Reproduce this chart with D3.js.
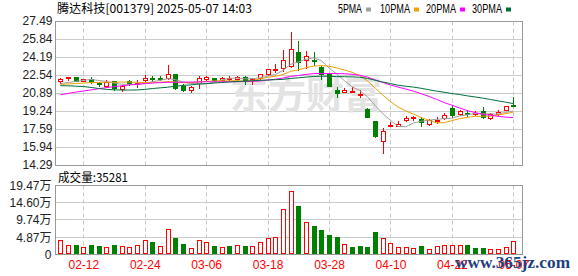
<!DOCTYPE html>
<html>
<head>
<meta charset="utf-8">
<script src="https://cdn.jsdelivr.net/npm/d3@7"></script>
<style>
body { margin: 0; background: #fff; }
svg { display: block; font-family: "Liberation Sans", Arial, "Noto Sans CJK SC", sans-serif; }
</style>
</head>
<body>
<svg id="chart" width="578" height="276"></svg>
<script>
var dates = ['02-07','02-10','02-11','02-12','02-13','02-14','02-17','02-18','02-19','02-20',
  '02-21','02-24','02-25','02-26','02-27','02-28','03-03','03-04','03-05','03-06',
  '03-07','03-10','03-11','03-12','03-13','03-14','03-17','03-18','03-19','03-20',
  '03-21','03-24','03-25','03-26','03-27','03-28','03-31','04-01','04-02','04-03',
  '04-07','04-08','04-09','04-10','04-11','04-14','04-15','04-16','04-17','04-18',
  '04-21','04-22','04-23','04-24','04-25','04-28','04-29','04-30','05-06','05-07'];

var open = [21.96,22.22,22.36,22.00,22.17,21.78,21.56,21.99,21.23,21.99,
  21.74,22.05,22.24,22.30,22.29,22.63,21.56,21.20,21.83,22.17,
  22.24,22.08,22.15,22.17,22.38,22.08,22.29,22.60,23.02,23.15,
  23.40,24.68,23.94,23.88,23.30,22.60,21.16,21.00,20.98,20.74,
  19.40,18.32,16.52,17.84,17.87,18.39,18.57,18.54,18.05,18.40,
  18.62,19.51,18.94,19.06,18.98,19.24,18.57,18.96,19.33,19.82];
var high = [22.29,22.38,22.38,22.20,22.36,21.90,22.11,22.00,21.62,22.08,
  22.08,22.54,22.45,22.42,23.46,22.65,21.68,21.50,22.47,22.42,
  22.30,22.35,22.45,22.42,22.42,22.30,22.65,23.10,23.52,24.83,
  26.45,25.68,24.76,24.62,23.35,22.62,21.41,21.35,21.40,21.16,
  19.55,18.35,17.68,18.27,18.30,18.80,18.80,18.72,18.54,18.72,
  19.10,19.70,19.35,19.25,19.20,19.57,19.10,19.30,19.70,20.55];
var low = [21.83,22.08,22.00,21.98,21.85,21.56,21.44,21.14,21.10,21.62,
  21.44,21.88,21.99,22.08,22.17,21.23,21.05,21.00,21.32,22.10,
  22.00,22.00,22.10,22.10,21.70,21.75,22.20,22.55,22.84,22.95,
  23.25,23.00,23.20,23.46,22.17,21.52,20.50,20.95,20.97,20.55,
  18.65,16.85,15.42,17.82,17.85,18.35,18.42,17.90,17.98,18.10,
  18.50,18.66,18.90,18.80,18.85,18.57,18.52,18.90,19.30,19.75];
var close = [22.17,22.36,22.02,22.18,21.90,21.72,21.93,21.32,21.56,21.85,
  21.80,22.24,22.15,22.20,22.63,21.32,21.20,21.47,22.24,22.33,
  22.07,22.30,22.22,22.38,22.00,22.13,22.60,23.06,23.10,23.92,
  24.92,23.70,24.25,23.78,22.63,21.56,20.92,21.20,21.05,20.84,
  18.73,16.95,17.43,17.95,18.02,18.63,18.66,18.26,18.42,18.45,
  18.90,18.87,19.27,18.98,19.02,18.69,18.94,19.18,19.67,19.78];

var ma5 = [21.75,21.85,21.95,22.05,22.13,22.04,21.95,21.81,21.69,21.68,
  21.69,21.75,21.92,22.05,22.20,22.11,21.90,21.76,21.77,21.71,
  21.86,22.08,22.23,22.26,22.19,22.21,22.27,22.43,22.58,22.96,
  23.52,23.74,23.98,24.11,23.86,23.18,22.63,22.02,21.47,21.11,
  20.55,19.75,19.00,18.38,17.82,17.80,18.14,18.30,18.40,18.48,
  18.54,18.58,18.78,18.89,19.01,18.97,18.98,18.96,19.10,19.25];
var ma10 = [21.68,21.72,21.76,21.80,21.84,21.86,21.88,21.88,21.89,21.90,
  21.87,21.85,21.87,21.87,21.94,21.90,21.83,21.84,21.91,21.96,
  21.99,21.99,22.00,22.02,21.95,22.04,22.18,22.33,22.42,22.58,
  22.87,23.01,23.21,23.35,23.41,23.35,23.19,23.00,22.79,22.49,
  22.00,21.35,20.70,20.10,19.60,19.25,18.95,18.65,18.39,18.15,
  18.17,18.36,18.54,18.65,18.75,18.76,18.78,18.87,19.00,19.13];
var ma20 = [20.72,20.85,20.97,21.07,21.17,21.28,21.38,21.47,21.55,21.62,
  21.69,21.75,21.80,21.84,21.87,21.88,21.88,21.89,21.90,21.92,
  21.91,21.91,21.92,21.93,21.94,21.96,21.99,22.08,22.15,22.26,
  22.41,22.49,22.59,22.67,22.67,22.68,22.67,22.66,22.60,22.52,
  22.35,22.09,21.85,21.63,21.43,21.25,21.06,20.82,20.58,20.31,
  20.01,19.77,19.52,19.28,19.10,18.95,18.85,18.75,18.68,18.63];
var ma30 = [21.56,21.55,21.52,21.48,21.40,21.30,21.22,21.18,21.16,21.16,
  21.17,21.22,21.30,21.36,21.42,21.52,21.58,21.64,21.70,21.75,
  21.80,21.85,21.90,21.94,21.98,22.01,22.05,22.08,22.11,22.14,
  22.23,22.28,22.35,22.40,22.43,22.42,22.39,22.38,22.37,22.33,
  22.23,22.06,21.90,21.76,21.60,21.51,21.43,21.32,21.19,21.06,
  20.96,20.84,20.75,20.63,20.53,20.42,20.30,20.17,20.05,19.92];

// volume in 万 (10k lots)
var volume = [4.05,2.64,2.45,2.07,2.64,2.17,2.07,2.45,2.36,2.07,
  2.64,4.05,3.30,2.36,7.17,4.62,2.74,1.79,4.05,3.49,
  2.36,2.07,2.36,2.64,2.36,2.36,3.49,4.62,4.90,12.83,
  17.90,13.50,9.15,7.83,6.70,5.28,4.72,2.92,1.89,2.17,
  1.89,6.13,4.62,3.21,2.07,2.07,1.79,2.17,1.51,2.36,
  2.64,2.64,2.64,2.45,1.60,1.60,1.51,1.51,2.07,3.53];
var volUp = [1,1,0,1,0,0,1,0,1,1, 1,1,0,1,1,0,0,1,1,1,
  0,1,0,1,0,1,1,1,1,1, 1,0,1,0,0,0,0,1,0,0,
  0,0,1,1,1,1,1,0,1,1, 1,1,1,0,0,0,1,1,1,1];
var lastVolume = 35281;

var priceTicks = [27.49, 25.84, 24.19, 22.54, 20.89, 19.24, 17.59, 15.94, 14.29];
var volTicks = [0, 4.87, 9.74, 14.60, 19.47];
var dateTicks = ['02-12','02-24','03-06','03-18','03-28','04-10','04-22','05-07'];

var maNames = ['5PMA', '10PMA', '20PMA', '30PMA'];
var maColors = ['#a0a0a0', '#f0a000', '#ff00ff', '#00703c'];
var maSeries = [ma5, ma10, ma20, ma30];

var svg = d3.select('svg#chart');
var L = 55.5, R = 522.5;

var x = d3.scalePoint().domain(dates).range([60.3, 513.3]);
var y = d3.scaleLinear().domain([14.29, 27.49]).range([165, 21]);
var yv = d3.scaleLinear().domain([0, 19.47]).range([254, 185]);
function cx(d) { return Math.round(x(d)) + 0.5; }

// grid
var grid = svg.append('g');
priceTicks.forEach(function (t) {
    grid.append('line').attr('x1', L).attr('x2', R)
        .attr('y1', Math.round(y(t)) + 0.5).attr('y2', Math.round(y(t)) + 0.5)
        .attr('stroke', '#cccccc');
});
volTicks.forEach(function (t) {
    grid.append('line').attr('x1', L).attr('x2', R)
        .attr('y1', Math.round(yv(t)) + 0.5).attr('y2', Math.round(yv(t)) + 0.5)
        .attr('stroke', '#cccccc');
});
dateTicks.forEach(function (d) {
    [[21.5, 165.5], [185.5, 254.5]].forEach(function (r) {
        grid.append('line').attr('x1', cx(d)).attr('x2', cx(d))
            .attr('y1', r[0]).attr('y2', r[1])
            .attr('stroke', '#c8c8c8').attr('stroke-dasharray', '4,3');
    });
});

// watermark
svg.append('text').attr('x', 230).attr('y', 108)
    .attr('font-family', '"Noto Sans CJK SC"').attr('font-weight', 'bold')
    .attr('font-size', 38).attr('fill', '#e3e3e3')
    .attr('textLength', 152).attr('lengthAdjust', 'spacingAndGlyphs')
    .text('东方财富');

// candles
var cg = svg.append('g');
dates.forEach(function (d, i) {
    var xc = cx(d);
    var up = close[i] >= open[i];
    var col = up ? '#ff0000' : '#008000';
    var yt = Math.round(y(Math.max(open[i], close[i])));
    var yb = Math.round(y(Math.min(open[i], close[i])));
    var yh = Math.round(y(high[i])), yl = Math.round(y(low[i]));
    if (yb - yt < 1) yb = yt + 1;
    if (up) {
        if (yh < yt) cg.append('line').attr('x1', xc).attr('x2', xc).attr('y1', yh).attr('y2', yt).attr('stroke', col);
        if (yl > yb) cg.append('line').attr('x1', xc).attr('x2', xc).attr('y1', yb + 1).attr('y2', yl + 1).attr('stroke', col);
        cg.append('rect').attr('x', xc - 2).attr('y', yt + 0.5).attr('width', 4).attr('height', yb - yt)
            .attr('fill', '#fff').attr('stroke', col);
    } else {
        cg.append('line').attr('x1', xc).attr('x2', xc).attr('y1', yh).attr('y2', yl + 1).attr('stroke', col);
        cg.append('rect').attr('x', xc - 2.5).attr('y', yt).attr('width', 5).attr('height', yb - yt + 1)
            .attr('fill', col);
    }
});

// moving averages
maSeries.forEach(function (s, k) {
    var line = d3.line()
        .x(function (v, i) { return x(dates[i]); })
        .y(function (v) { return y(v); });
    svg.append('path').datum(s).attr('d', line)
        .attr('fill', 'none').attr('stroke', maColors[k]).attr('stroke-width', 1);
});

// volume bars
var vg = svg.append('g');
dates.forEach(function (d, i) {
    var xc = cx(d);
    var top = Math.round(yv(volume[i]));
    if (volUp[i]) {
        vg.append('rect').attr('x', xc - 2).attr('y', top + 0.5).attr('width', 4).attr('height', 253 - top)
            .attr('fill', '#fff').attr('stroke', '#ff0000');
    } else {
        vg.append('rect').attr('x', xc - 2.5).attr('y', top).attr('width', 5).attr('height', 254 - top)
            .attr('fill', '#008000');
    }
});

// frames
svg.append('rect').attr('x', L).attr('y', 21.5).attr('width', R - L).attr('height', 144)
    .attr('fill', 'none').attr('stroke', '#999');
svg.append('rect').attr('x', L).attr('y', 185.5).attr('width', R - L).attr('height', 69)
    .attr('fill', 'none').attr('stroke', '#999');

// axes
function styleAxis(g, color) {
    g.select('.domain').remove();
    g.attr('font-size', 12).attr('font-family', '"Liberation Sans", Arial, "Noto Sans CJK SC", sans-serif');
    g.selectAll('text').attr('fill', color);
}
svg.append('g').attr('transform', 'translate(' + L + ',0)')
    .call(d3.axisLeft(y).tickValues(priceTicks).tickSize(0).tickPadding(3).tickFormat(d3.format('.2f')))
    .call(styleAxis, '#222');
svg.append('g').attr('transform', 'translate(' + L + ',0.5)')
    .call(d3.axisLeft(yv).tickValues(volTicks).tickSize(0).tickPadding(4)
        .tickFormat(function (d) { return d === 0 ? '0' : d.toFixed(2) + '万'; }))
    .call(styleAxis, '#222');
svg.append('g').attr('transform', 'translate(0,254.5)')
    .call(d3.axisBottom(x).tickValues(dateTicks).tickSize(0).tickPadding(6))
    .call(styleAxis, '#ff0000');

// title, legend
svg.append('text').attr('x', 57).attr('y', 12.5).attr('font-size', 12)
    .attr('font-family', '"Noto Sans CJK SC", sans-serif').attr('fill', '#000')
    .attr('textLength', 195).attr('lengthAdjust', 'spacingAndGlyphs')
    .text('腾达科技[001379] 2025-05-07 14:03');

var legX = [338, 380, 426, 472];
var legW = [24, 30, 30, 30];
maNames.forEach(function (n, k) {
    svg.append('text').attr('x', legX[k]).attr('y', 13).attr('font-size', 12)
        .attr('textLength', legW[k]).attr('lengthAdjust', 'spacingAndGlyphs')
        .attr('fill', '#000').text(n);
    svg.append('rect').attr('x', legX[k] + legW[k] + 4).attr('y', 7.5).attr('width', 5).attr('height', 4)
        .attr('fill', maColors[k]);
});

svg.append('text').attr('x', 58).attr('y', 181.5).attr('font-size', 12)
    .attr('font-family', '"Noto Sans CJK SC", sans-serif').attr('fill', '#000')
    .attr('textLength', 70).attr('lengthAdjust', 'spacingAndGlyphs')
    .text('成交量:' + lastVolume);

// site mark
svg.append('text').attr('x', 455).attr('y', 268).attr('font-size', 16)
    .attr('font-family', '"Liberation Serif", serif').attr('font-weight', 'bold')
    .attr('fill', '#1f3f80').attr('textLength', 115).attr('lengthAdjust', 'spacingAndGlyphs')
    .text('www.365jz.com');
</script>
</body>
</html>
